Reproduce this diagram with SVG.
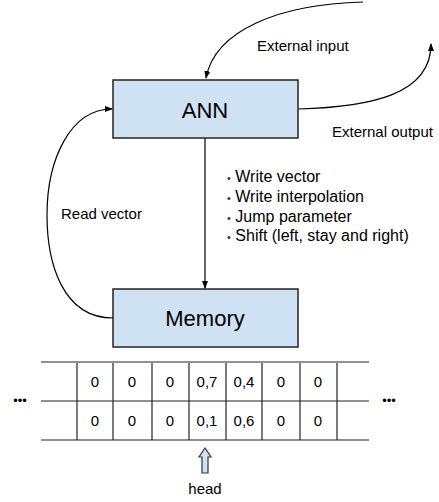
<svg xmlns="http://www.w3.org/2000/svg" width="439" height="502" viewBox="0 0 439 502">
<style>
text{font-family:"Liberation Sans",Arial,sans-serif;fill:#000}
.box{fill:#cfe2f3;stroke:#222;stroke-width:1.5}
.big{font-size:22px;text-anchor:middle}
.lbl{font-size:15px}
.cell{font-size:15px;text-anchor:middle}
.list{font-size:16px}
.bul{font-size:11px;fill:#333}
.conn{fill:none;stroke:#000;stroke-width:1.2}
.grid{stroke:#222;stroke-width:1.2}
</style>
<defs>
<marker id="arr" markerUnits="userSpaceOnUse" markerWidth="8" markerHeight="8" viewBox="0 0 8 8" refX="7" refY="4" orient="auto">
<path d="M0,1 L8,4 L0,7 Z" fill="#000"/>
</marker>
</defs>
<g id="connectors">
<path class="conn" d="M363,2 C280,4 215,30 206,78" marker-end="url(#arr)"/>
<path class="conn" d="M298,109 C370,107 431,95 431,44" marker-end="url(#arr)"/>
<path class="conn" d="M205,138 L205,288" marker-end="url(#arr)"/>
<path class="conn" d="M113,318 C62,318 47,262 47,215 C47,160 70,109 112,109" marker-end="url(#arr)"/>
<text class="lbl" x="257" y="51">External input</text>
<text class="lbl" x="332" y="137">External output</text>
<text class="lbl" x="61" y="219">Read vector</text>
<g class="list">
<text x="227" y="182"><tspan class="bul">•</tspan> Write vector</text>
<text x="227" y="202"><tspan class="bul">•</tspan> Write interpolation</text>
<text x="227" y="222"><tspan class="bul">•</tspan> Jump parameter</text>
<text x="227" y="241"><tspan class="bul">•</tspan> Shift (left, stay and right)</text>
</g>
</g>
<g id="ann">
<rect class="box" x="113" y="80" width="185" height="58"/>
<text class="big" x="205" y="118">ANN</text>
</g>
<g id="memory">
<rect class="box" x="113" y="289" width="185" height="58"/>
<text class="big" x="205" y="326">Memory</text>
</g>
<g id="tape">
<line class="grid" x1="41" y1="362" x2="369" y2="362"/>
<line class="grid" x1="41" y1="401" x2="369" y2="401"/>
<line class="grid" x1="41" y1="440" x2="369" y2="440"/>
<line class="grid" x1="77" y1="363" x2="77" y2="440"/>
<line class="grid" x1="113" y1="363" x2="113" y2="440"/>
<line class="grid" x1="152" y1="363" x2="152" y2="440"/>
<line class="grid" x1="189" y1="363" x2="189" y2="440"/>
<line class="grid" x1="226" y1="363" x2="226" y2="440"/>
<line class="grid" x1="262" y1="363" x2="262" y2="440"/>
<line class="grid" x1="300" y1="363" x2="300" y2="440"/>
<line class="grid" x1="337" y1="363" x2="337" y2="440"/>
<text class="cell" x="95" y="387">0</text>
<text class="cell" x="132" y="387">0</text>
<text class="cell" x="170" y="387">0</text>
<text class="cell" x="207" y="387">0,7</text>
<text class="cell" x="244" y="387">0,4</text>
<text class="cell" x="281" y="387">0</text>
<text class="cell" x="318" y="387">0</text>
<text class="cell" x="95" y="426">0</text>
<text class="cell" x="132" y="426">0</text>
<text class="cell" x="170" y="426">0</text>
<text class="cell" x="207" y="426">0,1</text>
<text class="cell" x="244" y="426">0,6</text>
<text class="cell" x="281" y="426">0</text>
<text class="cell" x="318" y="426">0</text>
<text x="20" y="405" font-size="13" text-anchor="middle" fill="#333">•••</text>
<text x="389" y="405" font-size="13" text-anchor="middle" fill="#333">•••</text>
</g>
<g id="head">
<path d="M205,448 L211,457 L208,457 L208,473 L202,473 L202,457 L199,457 Z" fill="#cfe2f3" stroke="#333" stroke-width="1.2"/>
<text class="lbl" x="205" y="494" text-anchor="middle">head</text>
</g>
</svg>
